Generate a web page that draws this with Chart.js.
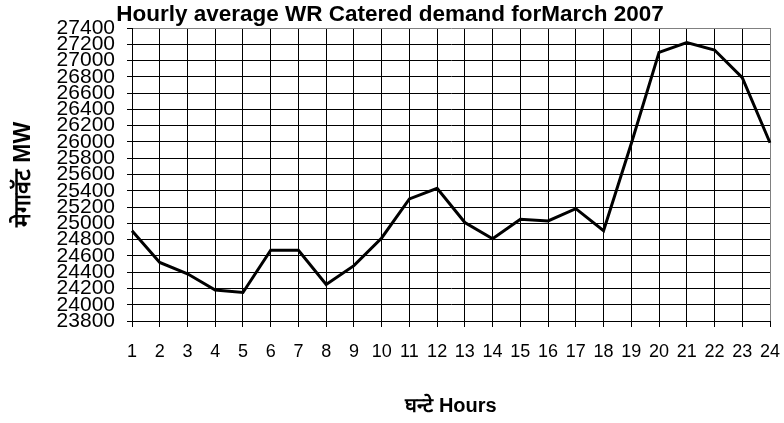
<!DOCTYPE html>
<html>
<head>
<meta charset="utf-8">
<script src="https://cdn.jsdelivr.net/npm/chart.js@4/dist/chart.umd.min.js"></script>
<style>
  body { margin: 0; background: #fff; }
  canvas { display: block; }
</style>
</head>
<body>
<canvas id="chart" width="784" height="423"></canvas>
<script>
const hours = ['1', '2', '3', '4', '5', '6', '7', '8', '9', '10', '11', '12',
               '13', '14', '15', '16', '17', '18', '19', '20', '21', '22', '23', '24'];
const demand = [24910, 24520, 24380, 24180, 24150, 24670, 24670, 24250, 24480, 24820, 25300, 25430,
                25010, 24810, 25050, 25030, 25180, 24910, 25980, 27100, 27220, 27130, 26790, 25990];
const yMin = 23800;
const yMax = 27400;
const yStep = 200;

const titleText = 'Hourly average WR Catered demand forMarch 2007';
const xTitle = 'घन्टे Hours';
const yTitle = 'मेगावॅट MW';

const borderGrey = '#808080';
const sans = '"Liberation Sans", Arial, sans-serif';

const ctx = document.getElementById('chart').getContext('2d');
new Chart(ctx, {
    type: 'line',
    data: {
        labels: hours,
        datasets: [{
            label: 'Demand',
            data: demand,
            borderColor: '#000',
            borderWidth: 3,
            pointRadius: 0,
            tension: 0,
            fill: false
        }]
    },
    options: {
        responsive: false,
        animation: false,
        devicePixelRatio: 1,
        layout: { padding: { left: 0, right: 4, top: 0, bottom: 0 } },
        plugins: {
            legend: { display: false },
            tooltip: { enabled: false },
            title: {
                display: true,
                text: titleText,
                color: '#000',
                font: { family: sans, size: 22.5, weight: 'bold', lineHeight: 1.2 },
                padding: { top: 1, bottom: 0 }
            }
        },
        scales: {
            x: {
                offset: false,
                grid: {
                    color: c => (c.index === hours.length - 1 ? borderGrey : '#000'),
                    tickColor: '#000',
                    tickLength: 6,
                    lineWidth: 1
                },
                border: { color: '#000', width: 1 },
                ticks: {
                    autoSkip: false,
                    maxRotation: 0,
                    color: '#000',
                    padding: 14,
                    font: { family: sans, size: 18 }
                },
                title: {
                    display: true,
                    text: xTitle,
                    color: '#000',
                    font: { family: sans, size: 20, weight: 'bold', lineHeight: 1.2 },
                    padding: { top: 0, bottom: 5 }
                },
                afterFit: s => {
                    s.height = 102;
                    s.paddingLeft = 0;
                    s.paddingRight = 14;
                }
            },
            y: {
                min: yMin,
                max: yMax,
                grid: {
                    color: c => (c.tick && c.tick.value === yMax ? borderGrey : '#000'),
                    tickColor: '#000',
                    tickLength: 5,
                    lineWidth: 1
                },
                border: { color: '#000', width: 1 },
                ticks: {
                    stepSize: yStep,
                    autoSkip: false,
                    color: '#000',
                    padding: 12,
                    font: { family: sans, size: 21, lineHeight: 1 },
                    callback: v => String(v)
                },
                title: {
                    display: true,
                    text: yTitle,
                    color: '#000',
                    font: { family: sans, size: 23, weight: 'bold', lineHeight: 1.2 },
                    padding: { top: 10, bottom: 0 }
                },
                afterFit: s => { s.width = 132; }
            }
        }
    }
});
</script>
</body>
</html>
